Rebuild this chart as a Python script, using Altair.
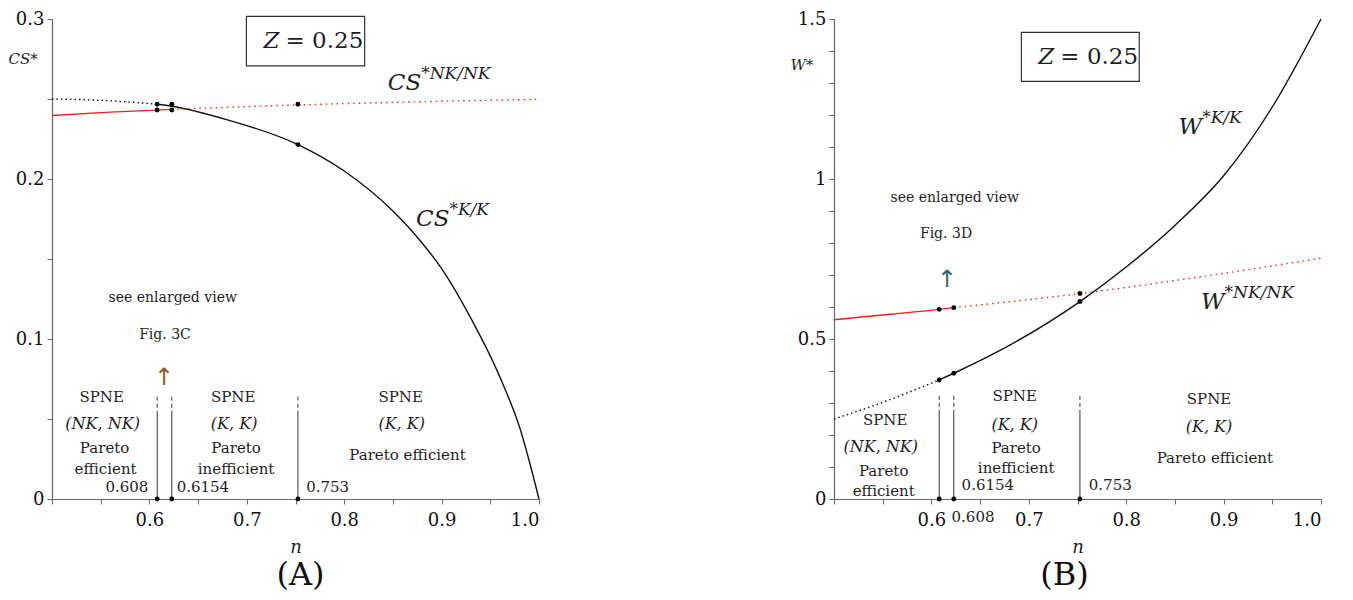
import altair as alt
import pandas as pd

SERIF = "DejaVu Serif"
TXT = "#1e1e1e"
AXC = "#666666"

# ---------------- Panel A : CS* ----------------
A_KK_DOT_N = [0.5, 0.55, 0.608]
A_KK_DOT_V = [0.2500, 0.2492, 0.2467]
A_KK_N = [0.608, 0.623, 0.68, 0.7525, 0.80, 0.85, 0.88, 0.90, 0.93, 0.96, 0.98, 1.0]
A_KK_V = [0.2467, 0.2455, 0.2370, 0.2215, 0.2050, 0.1800, 0.1600, 0.1440, 0.1130, 0.0760, 0.0450, 0.0]
A_NK_N = [0.5, 0.56, 0.623]
A_NK_V = [0.2397, 0.2418, 0.2435]
A_NK_DOT_N = [0.623, 0.7525, 0.88, 1.0]
A_NK_DOT_V = [0.2435, 0.2463, 0.2483, 0.2498]
A_DOT_N = [0.608, 0.608, 0.623, 0.623, 0.7525, 0.7525, 0.608, 0.623, 0.7525]
A_DOT_V = [0.2467, 0.2431, 0.2467, 0.2431, 0.2467, 0.2215, 0.0, 0.0, 0.0]
A_VL_N = [0.608, 0.623, 0.7525]
A_VL_MID = 0.0527
A_VL_TOP = 0.0652

A_REGION_TEXT = ["SPNE", "Pareto", "efficient", "SPNE", "Pareto", "inefficient", "SPNE", "Pareto efficient"]
A_REGION_N = [0.551, 0.554, 0.555, 0.686, 0.689, 0.689, 0.858, 0.865]
A_REGION_V = [0.0638, 0.0319, 0.0190, 0.0638, 0.0319, 0.0190, 0.0638, 0.0277]
A_MATH_TEXT = ["(NK, NK)", "(K, K)", "(K, K)"]
A_MATH_N = [0.552, 0.687, 0.859]
A_MATH_V = [0.0469, 0.0469, 0.0469]
A_THR_R = (["0.608"], [0.599], [0.0075])
A_THR_L = (["0.6154", "0.753"], [0.628, 0.761], [0.0075, 0.0075])
A_NOTE_TEXT = ["see enlarged view", "Fig. 3C"]
A_NOTE_N = [0.624, 0.616]
A_NOTE_V = [0.1256, 0.1023]
A_ARROW = (0.615, 0.0756)
A_BOX = (0.6996, 0.821, 0.2707, 0.3017)
A_CURVE_MAIN = ["CS", "CS"]
A_CURVE_SUP = ["*NK/NK", "*K/K"]
A_CURVE_N = [0.879, 0.908]
A_CURVE_V = [0.2555, 0.1709]

# ---------------- Panel B : W* ----------------
B_KK_DOT_N = [0.5, 0.55, 0.608]
B_KK_DOT_V = [0.250, 0.302, 0.372]
B_KK_N = [0.608, 0.623, 0.68, 0.7525, 0.80, 0.85, 0.90, 0.95, 1.0]
B_KK_V = [0.372, 0.393, 0.480, 0.617, 0.725, 0.855, 1.010, 1.225, 1.500]
B_NK_N = [0.5, 0.56, 0.608, 0.623]
B_NK_V = [0.560, 0.578, 0.5926, 0.598]
B_NK_DOT_N = [0.623, 0.7525, 0.88, 1.0]
B_NK_DOT_V = [0.598, 0.642, 0.696, 0.7526]
B_DOT_N = [0.608, 0.623, 0.7525, 0.608, 0.623, 0.7525, 0.608, 0.623, 0.7525]
B_DOT_V = [0.5926, 0.598, 0.642, 0.372, 0.393, 0.617, 0.0, 0.0, 0.0]
B_VL_N = [0.608, 0.623, 0.7525]
B_VL_MID = 0.266
B_VL_TOP = 0.326

B_REGION_TEXT = ["SPNE", "Pareto", "efficient", "SPNE", "Pareto", "inefficient", "SPNE", "Pareto efficient"]
B_REGION_N = [0.5525, 0.551, 0.551, 0.6855, 0.687, 0.687, 0.885, 0.891]
B_REGION_V = [0.247, 0.0885, 0.024, 0.323, 0.159, 0.098, 0.3125, 0.128]
B_MATH_TEXT = ["(NK, NK)", "(K, K)", "(K, K)"]
B_MATH_N = [0.548, 0.6855, 0.885]
B_MATH_V = [0.1635, 0.232, 0.224]
B_THR_R = ([], [], [])
B_THR_L = (["0.6154", "0.753", "0.608"], [0.631, 0.7616, 0.6207], [0.044, 0.044, -0.057])
B_NOTE_TEXT = ["see enlarged view", "Fig. 3D"]
B_NOTE_N = [0.624, 0.615]
B_NOTE_V = [0.942, 0.828]
B_ARROW = (0.616, 0.684)
B_BOX = (0.6924, 0.8134, 1.305, 1.4585)
B_CURVE_MAIN = ["W", "W"]
B_CURVE_SUP = ["*K/K", "*NK/NK"]
B_CURVE_N = [0.878, 0.901]
B_CURVE_V = [1.142, 0.595]

X_TICKS = [0.5, 0.55, 0.6, 0.65, 0.7, 0.75, 0.8, 0.85, 0.9, 0.95, 1.0]
A_Y_TICKS = [0.0, 0.05, 0.1, 0.15, 0.2, 0.25, 0.3]
B_Y_TICKS = [0.0, 0.1, 0.2, 0.3, 0.4, 0.5, 0.6, 0.7, 0.8, 0.9, 1.0, 1.1, 1.2, 1.3, 1.4, 1.5]

W, H = 487, 480


def df(ns, vs, labels=None):
    d = pd.DataFrame({"n": ns, "v": vs})
    if labels is not None:
        d["label"] = labels
    return d


def build_panel(P, ydomain, yticks, ylabel_expr, ytitle, ytitle_y, arrow_color, ptitle, pdx):
    axis_common = dict(grid=False, domainColor=AXC, tickColor=AXC, domainWidth=1.2,
                       tickSize=5, labelFont=SERIF, labelFontSize=18, labelColor="#111111",
                       titleFont=SERIF, titleFontWeight="normal", titleColor=TXT,
                       titleFontStyle="italic")
    X = alt.X("n:Q", scale=alt.Scale(domain=[0.5, 1.0], nice=False, zero=False),
              axis=alt.Axis(values=X_TICKS,
                            labelExpr="(round(datum.value*100) % 10 == 0 && datum.value > 0.51) ? format(datum.value, '.1f') : ''",
                            labelPadding=7, title="n", titleFontSize=18,
                            titleY=48, titleBaseline="middle", **axis_common))
    Y = alt.Y("v:Q", scale=alt.Scale(domain=ydomain, nice=False, zero=False),
              axis=alt.Axis(values=yticks, labelExpr=ylabel_expr, labelPadding=3,
                            title=ytitle, titleFontSize=15, titleAngle=0, titleAlign="left",
                            titleBaseline="middle", titleX=-44, titleY=ytitle_y, **axis_common))

    layers = []

    def line(ns, vs, color, dash=None):
        kw = dict(color=color, strokeWidth=1.4, interpolate="monotone")
        if dash:
            kw["strokeDash"] = dash
        layers.append(alt.Chart(df(ns, vs)).mark_line(**kw).encode(x=X, y=Y))

    line(P["kk_dot_n"], P["kk_dot_v"], "#111111", [1.5, 3])
    line(P["kk_n"], P["kk_v"], "#111111")
    line(P["nk_n"], P["nk_v"], "#ff1a1a")
    line(P["nk_dot_n"], P["nk_dot_v"], "#ff1a1a", [1.5, 4])

    vl_solid = pd.DataFrame({"n": P["vl_n"], "v": [0.0] * 3, "v1": [P["vl_mid"]] * 3})
    vl_dash = pd.DataFrame({"n": P["vl_n"], "v": [P["vl_mid"]] * 3, "v1": [P["vl_top"]] * 3})
    layers.append(alt.Chart(vl_solid).mark_rule(color="#333333", strokeWidth=1).encode(
        x=X, y=Y, y2="v1:Q"))
    layers.append(alt.Chart(vl_dash).mark_rule(color="#333333", strokeWidth=1, strokeDash=[4, 3]).encode(
        x=X, y=Y, y2="v1:Q"))

    bx = P["box"]
    box = pd.DataFrame({"n": [bx[0]], "n1": [bx[1]], "v": [bx[2]], "v1": [bx[3]]})
    layers.append(alt.Chart(box).mark_rect(fill="white", stroke="#333333", strokeWidth=1.2).encode(
        x=X, x2="n1:Q", y=Y, y2="v1:Q"))
    boxc = pd.DataFrame({"n": [(bx[0] + bx[1]) / 2], "v": [(bx[2] + bx[3]) / 2],
                         "label": ["Z"], "rest": ["= 0.25"]})
    layers.append(alt.Chart(boxc).mark_text(font=SERIF, fontSize=23, fontStyle="italic", color=TXT,
                                            baseline="middle", align="right", dx=-26).encode(
        x=X, y=Y, text="label:N"))
    layers.append(alt.Chart(boxc).mark_text(font=SERIF, fontSize=23, color=TXT, baseline="middle",
                                            align="left", dx=-20).encode(x=X, y=Y, text="rest:N"))

    layers.append(alt.Chart(df(P["dot_n"], P["dot_v"])).mark_circle(
        size=24, color="#000000", opacity=1).encode(x=X, y=Y))

    def text(d, **kw):
        base = dict(font=SERIF, color=TXT, baseline="middle")
        base.update(kw)
        layers.append(alt.Chart(d).mark_text(**base).encode(x=X, y=Y, text="label:N"))

    text(df(P["reg_n"], P["reg_v"], P["reg_t"]), fontSize=15, align="center")
    text(df(P["math_n"], P["math_v"], P["math_t"]), fontSize=16, align="center", fontStyle="italic")
    if P["thr_r"][0]:
        text(df(P["thr_r"][1], P["thr_r"][2], P["thr_r"][0]), fontSize=15, align="right")
    text(df(P["thr_l"][1], P["thr_l"][2], P["thr_l"][0]), fontSize=15, align="left")
    text(df(P["note_n"], P["note_v"], P["note_t"]), fontSize=14, align="center")
    text(df([P["arrow"][0]], [P["arrow"][1]], ["\u2191"]), fontSize=24, align="center",
         font="DejaVu Sans", color=arrow_color)
    text(df(P["cur_n"], P["cur_v"], P["cur_main"]), fontSize=23, align="right",
         fontStyle="italic", baseline="alphabetic")
    text(df(P["cur_n"], P["cur_v"], P["cur_sup"]), fontSize=17, align="left",
         fontStyle="italic", baseline="alphabetic", dy=-11)

    return alt.layer(*layers).properties(
        width=W, height=H,
        title=alt.TitleParams(ptitle, orient="bottom", font=SERIF, fontSize=32,
                              fontWeight="normal", color="#111111", offset=4, dx=pdx))


PA = dict(kk_dot_n=A_KK_DOT_N, kk_dot_v=A_KK_DOT_V, kk_n=A_KK_N, kk_v=A_KK_V,
          nk_n=A_NK_N, nk_v=A_NK_V, nk_dot_n=A_NK_DOT_N, nk_dot_v=A_NK_DOT_V,
          dot_n=A_DOT_N, dot_v=A_DOT_V, vl_n=A_VL_N, vl_mid=A_VL_MID, vl_top=A_VL_TOP,
          reg_t=A_REGION_TEXT, reg_n=A_REGION_N, reg_v=A_REGION_V,
          math_t=A_MATH_TEXT, math_n=A_MATH_N, math_v=A_MATH_V,
          thr_r=A_THR_R, thr_l=A_THR_L, note_t=A_NOTE_TEXT, note_n=A_NOTE_N, note_v=A_NOTE_V,
          arrow=A_ARROW, box=A_BOX, cur_main=A_CURVE_MAIN, cur_sup=A_CURVE_SUP,
          cur_n=A_CURVE_N, cur_v=A_CURVE_V)
PB = dict(kk_dot_n=B_KK_DOT_N, kk_dot_v=B_KK_DOT_V, kk_n=B_KK_N, kk_v=B_KK_V,
          nk_n=B_NK_N, nk_v=B_NK_V, nk_dot_n=B_NK_DOT_N, nk_dot_v=B_NK_DOT_V,
          dot_n=B_DOT_N, dot_v=B_DOT_V, vl_n=B_VL_N, vl_mid=B_VL_MID, vl_top=B_VL_TOP,
          reg_t=B_REGION_TEXT, reg_n=B_REGION_N, reg_v=B_REGION_V,
          math_t=B_MATH_TEXT, math_n=B_MATH_N, math_v=B_MATH_V,
          thr_r=B_THR_R, thr_l=B_THR_L, note_t=B_NOTE_TEXT, note_n=B_NOTE_N, note_v=B_NOTE_V,
          arrow=B_ARROW, box=B_BOX, cur_main=B_CURVE_MAIN, cur_sup=B_CURVE_SUP,
          cur_n=B_CURVE_N, cur_v=B_CURVE_V)

A_LABELS = "(round(datum.value*100) % 10 == 0) ? (datum.value == 0 ? '0' : format(datum.value, '.1f')) : ''"
B_LABELS = "(round(datum.value*10) % 5 == 0) ? format(datum.value, '~g') : ''"

chartA = build_panel(PA, [0, 0.3], A_Y_TICKS, A_LABELS, "CS*", 39, "#8b5a2b", "(A)", 5)
chartB = build_panel(PB, [0, 1.5], B_Y_TICKS, B_LABELS, "W*", 45, "#2e6b73", "(B)", -13)

chart = alt.HConcatChart(hconcat=[chartA, chartB], spacing=295, bounds="flush").configure_view(
    stroke=None).properties(padding={"left": 0, "top": 2, "right": 0, "bottom": 8})

chart.save("out.html", embed_options={"renderer": "svg", "actions": False})
